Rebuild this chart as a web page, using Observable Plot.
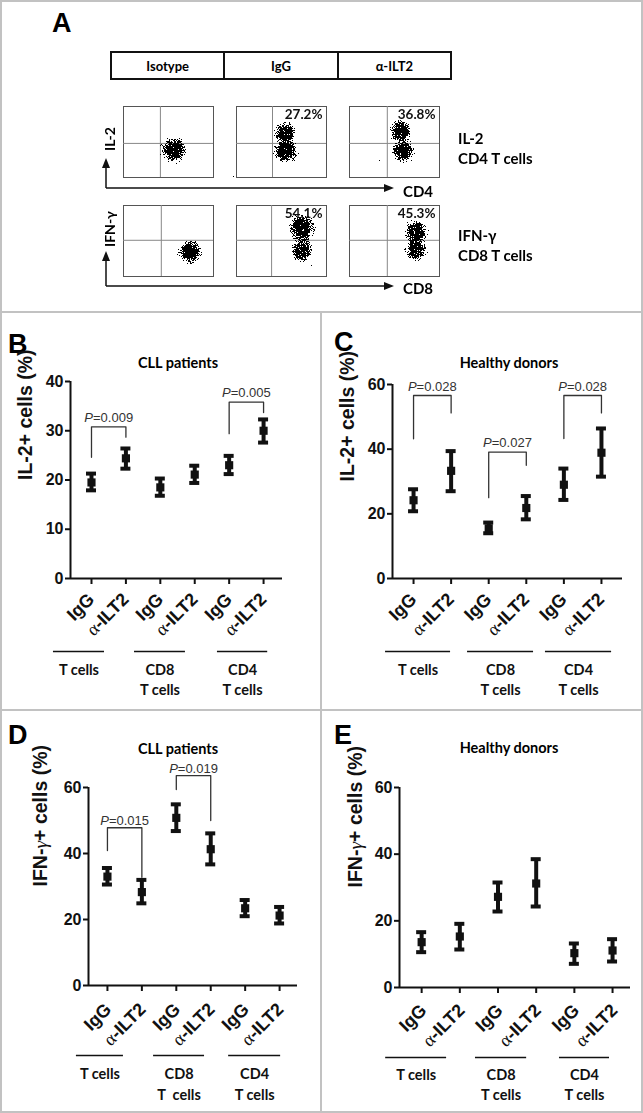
<!DOCTYPE html>
<html>
<head>
<meta charset="utf-8">
<script src="https://cdn.jsdelivr.net/npm/d3@7"></script>
<script src="https://cdn.jsdelivr.net/npm/@observablehq/plot@0.6"></script>
<style>
  body { margin: 0; background: #fff; }
  #fig { position: relative; width: 643px; height: 1113px; overflow: hidden; background: #fff; }
  .abs { position: absolute; }
  .border { position: absolute; background: #c2c2c2; }
  .letter { position: absolute; font-family: "Liberation Sans", Arial, sans-serif; font-weight: bold; font-size: 27px; line-height: 1; }
  .title { position: absolute; font-family: Lato, sans-serif; font-weight: bold; font-size: 14.5px; transform: translate(-50%, -50%); white-space: nowrap; }
  .lab { position: absolute; font-family: Lato, sans-serif; font-weight: bold; font-size: 15px; white-space: nowrap; transform: translateY(-50%); }
  .rot { position: absolute; font-family: Lato, sans-serif; font-weight: bold; font-size: 14px; white-space: nowrap; transform: translate(-50%, -50%) rotate(-90deg); }
  #hdr { position: absolute; left: 110px; top: 51px; width: 342px; height: 29px; border: 2px solid #111; box-sizing: border-box; display: flex; }
  #hdr div { flex: 1; display: flex; align-items: center; justify-content: center; font-family: Lato, sans-serif; font-weight: bold; font-size: 13px; border-left: 2px solid #111; }
  #hdr div:first-child { border-left: none; }
  .panel svg { overflow: visible; }
  #flow g[aria-label="dot"] { filter: url(#speckle); }
</style>
</head>
<body>
<div id="fig">
  <svg width="0" height="0" style="position:absolute">
    <defs>
      <radialGradient id="blob">
        <stop offset="0" stop-color="#000" stop-opacity="1"/>
        <stop offset="0.4" stop-color="#000" stop-opacity="1"/>
        <stop offset="0.7" stop-color="#000" stop-opacity="0.55"/>
        <stop offset="1" stop-color="#000" stop-opacity="0"/>
      </radialGradient>
      <filter id="speckle" x="-10%" y="-10%" width="120%" height="120%" color-interpolation-filters="sRGB">
        <feTurbulence type="fractalNoise" baseFrequency="1.37" numOctaves="1" seed="4" result="noise"/>
        <feColorMatrix in="noise" type="matrix" values="0 0 0 0 0  0 0 0 0 0  0 0 0 0 0  1 0 0 0 0" result="n"/>
        <feComposite in="SourceAlpha" in2="n" operator="arithmetic" k1="0" k2="3" k3="-6" k4="1.5" result="d"/>
        <feComponentTransfer in="d" result="m"><feFuncA type="discrete" tableValues="0 1"/></feComponentTransfer>
        <feFlood flood-color="#000" flood-opacity="1" result="black"/>
        <feComposite in="black" in2="m" operator="in"/>
      </filter>
    </defs>
  </svg>

  <!-- panel borders -->
  <div class="border" style="left:0;top:0;width:643px;height:2px"></div>
  <div class="border" style="left:0;top:1111px;width:643px;height:2px"></div>
  <div class="border" style="left:0;top:0;width:2px;height:1113px"></div>
  <div class="border" style="left:641px;top:0;width:2px;height:1113px"></div>
  <div class="border" style="left:0;top:311px;width:643px;height:2px"></div>
  <div class="border" style="left:0;top:709px;width:643px;height:2px"></div>
  <div class="border" style="left:320px;top:311px;width:2px;height:802px"></div>

  <!-- Panel A -->
  <div class="letter" style="left:52px;top:10px">A</div>
  <div id="hdr"><div>Isotype</div><div>IgG</div><div>α-ILT2</div></div>
  <div id="flow" class="abs" style="left:0;top:0"></div>
  <svg class="abs" style="left:0;top:0" width="643" height="312">
    <g stroke="#111" stroke-width="1.5" fill="none">
      <path d="M106,188 V166 M106,188 H386"/>
      <path d="M106,286 V259 M106,286 H386"/>
    </g>
    <g fill="#111">
      <path d="M106,158 L102,168 L110,168 Z"/>
      <path d="M394,188 L384,184 L384,192 Z"/>
      <path d="M106,251 L102,261 L110,261 Z"/>
      <path d="M394,286 L384,282 L384,290 Z"/>
    </g>
  </svg>
  <div class="rot" style="left:109px;top:139px">IL-2</div>
  <div class="rot" style="left:109px;top:229px">IFN-γ</div>
  <div class="lab" style="left:403px;top:191px">CD4</div>
  <div class="lab" style="left:403px;top:288px">CD8</div>
  <div class="lab" style="left:458px;top:138px">IL-2</div>
  <div class="lab" style="left:458px;top:158px">CD4 T cells</div>
  <div class="lab" style="left:458px;top:235px">IFN-γ</div>
  <div class="lab" style="left:458px;top:255px">CD8 T cells</div>

  <!-- Panels B-E -->
  <div class="letter" style="left:8px;top:331px">B</div>
  <div class="letter" style="left:334px;top:329px">C</div>
  <div class="letter" style="left:8px;top:722px">D</div>
  <div class="letter" style="left:334px;top:722px">E</div>
  <div class="title" style="left:178px;top:362px">CLL patients</div>
  <div class="title" style="left:509px;top:362px">Healthy donors</div>
  <div class="title" style="left:178px;top:748px">CLL patients</div>
  <div class="title" style="left:509px;top:747px">Healthy donors</div>
  <div id="pB" class="abs panel" style="left:0;top:313px"></div>
  <div id="pC" class="abs panel" style="left:322px;top:313px"></div>
  <div id="pD" class="abs panel" style="left:0;top:710px"></div>
  <div id="pE" class="abs panel" style="left:322px;top:710px"></div>
</div>

<script>
// ---------- Panel A data (flow cytometry) ----------
const flowTreat = ["Isotype", "IgG", "α-ILT2"];
const flowStain = ["IL-2", "IFN-γ"];
const gateStain = ["IL-2", "IL-2", "IL-2", "IFN-γ", "IFN-γ", "IFN-γ"];
const gateTreat = ["Isotype", "IgG", "α-ILT2", "Isotype", "IgG", "α-ILT2"];
const gateX = [0.41, 0.40, 0.42, 0.42, 0.39, 0.42];
const gateY = [0.48, 0.48, 0.48, 0.51, 0.51, 0.51];
const cloudStain = ["IL-2", "IL-2", "IL-2", "IL-2", "IL-2", "IFN-γ", "IFN-γ", "IFN-γ", "IFN-γ", "IFN-γ"];
const cloudTreat = ["Isotype", "IgG", "IgG", "α-ILT2", "α-ILT2", "Isotype", "IgG", "IgG", "α-ILT2", "α-ILT2"];
const cloudX = [0.56, 0.54, 0.55, 0.57, 0.60, 0.74, 0.73, 0.73, 0.74, 0.74];
const cloudY = [0.39, 0.63, 0.37, 0.65, 0.37, 0.35, 0.69, 0.37, 0.63, 0.38];
const cloudR = [16, 14, 15, 14, 14, 15, 17, 14, 14, 14];
const pctStain = ["IL-2", "IL-2", "IFN-γ", "IFN-γ"];
const pctTreat = ["IgG", "α-ILT2", "IgG", "α-ILT2"];
const pctText = ["27.2%", "36.8%", "54.1%", "45.3%"];

// ---------- Panels B-E data ----------
const groupNames = ["T cells", "CD8\nT cells", "CD4\nT cells"];
const groupNamesD = ["T cells", "CD8\nT  cells", "CD4\nT cells"];
const treatments = ["IgG", "α-ILT2"];
const tickPositions = [1, 2, 3, 4, 5, 6];

// B: IL-2+, CLL patients
const il2CllMean = [19.5, 24.4, 18.5, 21.1, 23.0, 30.0];
const il2CllLow  = [17.9, 22.3, 16.8, 19.4, 21.2, 27.6];
const il2CllHigh = [21.3, 26.4, 20.3, 22.9, 24.9, 32.3];
const pLabelB = ["P=0.009", "P=0.005"];
const pFromB = [1, 5], pToB = [2, 6];
const pTopB = [30.8, 35.8], pLeftEndB = [24.6, 29.4], pRightEndB = [28.7, 33.7];
const yTicksB = [0, 10, 20, 30, 40];

// C: IL-2+, healthy donors
const il2HdMean = [24.2, 33.3, 15.5, 21.8, 29.0, 38.9];
const il2HdLow  = [20.8, 27.0, 14.0, 18.3, 24.3, 31.5];
const il2HdHigh = [27.6, 39.4, 17.3, 25.5, 34.0, 46.4];
const pLabelC = ["P=0.028", "P=0.027", "P=0.028"];
const pFromC = [1, 3, 5], pToC = [2, 4, 6];
const pTopC = [56.6, 39.1, 56.6], pLeftEndC = [43.2, 25.0, 43.3], pRightEndC = [51.2, 35.0, 51.2];
const yTicks60 = [0, 20, 40, 60];

// D: IFN-γ+, CLL patients
const ifnCllMean = [33.0, 28.3, 50.8, 41.3, 23.4, 21.2];
const ifnCllLow  = [30.6, 24.9, 46.8, 36.7, 21.0, 18.8];
const ifnCllHigh = [35.6, 32.0, 54.9, 46.1, 25.9, 23.8];
const pLabelD = ["P=0.015", "P=0.019"];
const pFromD = [1, 3], pToD = [2, 4];
const pTopD = [47.8, 63.6], pLeftEndD = [40.9, 59.4], pRightEndD = [32.8, 50.0];

// E: IFN-γ+, healthy donors
const ifnHdMean = [13.6, 15.3, 27.2, 31.2, 10.3, 11.1];
const ifnHdLow  = [10.6, 11.4, 22.8, 24.3, 7.1, 7.8];
const ifnHdHigh = [16.6, 19.1, 31.5, 38.5, 13.2, 14.5];

// ---------- helpers ----------
function fixSymbols(svg) {
  svg.querySelectorAll("text").forEach(t => {
    if (t.querySelector("tspan")) return;
    const s = t.textContent;
    const ns = "http://www.w3.org/2000/svg";
    const mk = (txt, attrs) => { const e = document.createElementNS(ns, "tspan"); e.textContent = txt; for (const k in attrs) e.setAttribute(k, attrs[k]); return e; };
    if (s.startsWith("α-")) {
      t.textContent = "";
      t.appendChild(mk("α", {"font-family": "Liberation Serif, DejaVu Serif, serif", "font-weight": "normal"}));
      t.appendChild(mk(s.slice(1), {}));
    } else if (s.startsWith("P=")) {
      t.textContent = "";
      t.appendChild(mk("P", {"font-style": "italic"}));
      t.appendChild(mk(s.slice(1), {}));
    } else if (s.includes("γ+")) {
      const i = s.indexOf("γ");
      t.textContent = "";
      t.appendChild(mk(s.slice(0, i), {}));
      t.appendChild(mk("γ", {"font-family": "Liberation Serif, DejaVu Serif, serif", "font-weight": "normal", "font-style": "italic"}));
      t.appendChild(mk(s.slice(i + 1), {}));
    }
  });
}

// ---------- Panel A: flow plots ----------
{
  const gates = gateX.map((gx, i) => ({gx, gy: gateY[i], stain: gateStain[i], treat: gateTreat[i]}));
  const clouds = cloudX.map((x, i) => ({x, y: cloudY[i], r: cloudR[i], stain: cloudStain[i], treat: cloudTreat[i]}));
  const pcts = pctText.map((text, i) => ({text, stain: pctStain[i], treat: pctTreat[i]}));
  const svg = Plot.plot({
    width: 643, height: 312,
    marginLeft: 122, marginRight: 203, marginTop: 106, marginBottom: 35,
    style: {background: "transparent", overflow: "visible"},
    fx: {domain: flowTreat, paddingInner: 0.2, paddingOuter: 0, axis: null},
    fy: {domain: flowStain, paddingInner: 0.28, paddingOuter: 0, axis: null},
    x: {domain: [0, 1], axis: null},
    y: {domain: [0, 1], axis: null},
    r: {type: "linear", domain: [0, 1], range: [0, 1]},
    marks: [
      Plot.frame({stroke: "#555", strokeWidth: 1}),
      Plot.ruleX(gates, {x: "gx", fx: "treat", fy: "stain", stroke: "#888", strokeWidth: 1}),
      Plot.ruleY(gates, {y: "gy", fx: "treat", fy: "stain", stroke: "#888", strokeWidth: 1}),
      Plot.dot(clouds, {x: "x", y: "y", r: "r", fx: "treat", fy: "stain", fill: "url(#blob)", stroke: null}),
      Plot.text(pcts, {text: "text", fx: "treat", fy: "stain", frameAnchor: "top-right", dx: -4, dy: 3, lineAnchor: "top",
        fontFamily: "Lato, sans-serif", fontWeight: "bold", fontSize: 13.5, fill: "#111"})
    ]
  });
  document.getElementById("flow").appendChild(svg);
}

// ---------- Panels B-E ----------
function panel(cfg) {
  const rows = cfg.mean.map((m, i) => ({x: i + 1, m, lo: cfg.low[i], hi: cfg.high[i]}));
  const brackets = [];
  const pRows = [];
  (cfg.pLabel || []).forEach((text, k) => {
    const a = cfg.pFrom[k], b = cfg.pTo[k];
    brackets.push({k, x: a, y: cfg.pLeft[k]}, {k, x: a, y: cfg.pTop[k]}, {k, x: b, y: cfg.pTop[k]}, {k, x: b, y: cfg.pRight[k]});
    pRows.push({text, x: (a + b) / 2, y: cfg.pTop[k]});
  });
  const groups = cfg.groups.map((g, i) => ({g, a: cfg.spans[i][0], b: cfg.spans[i][1], c: (cfg.spans[i][0] + cfg.spans[i][1]) / 2}));
  const [mt, mr, mb, ml] = cfg.margins;
  const svg = Plot.plot({
    width: cfg.width, height: cfg.height,
    marginTop: mt, marginRight: mr, marginBottom: mb, marginLeft: ml,
    style: {background: "transparent", overflow: "visible", fontFamily: "Liberation Sans, Arial, sans-serif", fontWeight: "bold", fontSize: "16px", color: "#111"},
    x: {domain: cfg.xDomain, axis: null},
    y: {domain: [0, cfg.yMax], axis: null},
    marks: [
      Plot.axisY({ticks: cfg.yTicks, tickSize: 5, tickPadding: 2, strokeWidth: 2, label: null, tickFormat: d => d}),
      Plot.axisX({ticks: tickPositions, tickFormat: () => "", tickSize: 6, strokeWidth: 2, label: null}),
      Plot.text(tickPositions, {x: d => d, y: () => 0, text: d => treatments[(d - 1) % 2], rotate: -45, textAnchor: "end", lineAnchor: "bottom",
        dx: cfg.tickDx, dy: cfg.tickDy, fontSize: 18, fontWeight: "bold", fill: "#111"}),
      Plot.ruleX([cfg.xDomain[0]], {y1: 0, y2: cfg.yMax, strokeWidth: 2, stroke: "#111"}),
      Plot.ruleY([0], {strokeWidth: 2, stroke: "#111"}),
      Plot.text([cfg.yLabel], {frameAnchor: "left", rotate: -90, dx: -cfg.yLabelOff, lineAnchor: "middle", fontSize: 19.5, fontWeight: "bold", fill: "#111"}),
      Plot.ruleX(rows, {x: "x", y1: "lo", y2: "hi", strokeWidth: 4, stroke: "#111"}),
      Plot.ruleY(rows, {x1: "x", x2: "x", y: "lo", insetLeft: -5, insetRight: -5, strokeWidth: 4, stroke: "#111"}),
      Plot.ruleY(rows, {x1: "x", x2: "x", y: "hi", insetLeft: -5, insetRight: -5, strokeWidth: 4, stroke: "#111"}),
      Plot.dot(rows, {x: "x", y: "m", symbol: "square", r: 4.6, fill: "#111", stroke: null}),
      Plot.line(brackets, {x: "x", y: "y", z: "k", stroke: "#333", strokeWidth: 1.3}),
      Plot.text(pRows, {x: "x", y: "y", text: "text", dy: -cfg.pDy, lineAnchor: "middle", fontSize: 13, fontWeight: "normal", fill: "#333"}),
      Plot.ruleY(groups, {x1: "a", x2: "b", y: () => 0, dy: cfg.groupDy, strokeWidth: 1.3, stroke: "#111"}),
      Plot.text(groups, {x: "c", y: () => 0, text: "g", dy: cfg.labelDy, lineAnchor: "top", lineHeight: cfg.lineH,
        fontFamily: "Lato, sans-serif", fontWeight: "bold", fontSize: 14.5, fill: "#111"})
    ]
  });
  fixSymbols(svg);
  document.getElementById(cfg.el).appendChild(svg);
}

panel({el: "pB", mean: il2CllMean, low: il2CllLow, high: il2CllHigh,
  pLabel: pLabelB, pFrom: pFromB, pTo: pToB, pTop: pTopB, pLeft: pLeftEndB, pRight: pRightEndB,
  yMax: 40, yTicks: yTicksB, yLabel: "IL-2+ cells (%)", groups: groupNames,
  xDomain: [0.39, 6.55], spans: [[-0.105, 1.378], [2.25, 3.73], [4.66, 6.12]],
  width: 321, height: 397, margins: [68, 39, 132, 70], tickDx: 4, tickDy: 22, groupDy: 73, labelDy: 82, lineH: 1.38, pDy: 9, yLabelOff: 45});

panel({el: "pC", mean: il2HdMean, low: il2HdLow, high: il2HdHigh,
  pLabel: pLabelC, pFrom: pFromC, pTo: pToC, pTop: pTopC, pLeft: pLeftEndC, pRight: pRightEndC,
  yMax: 60, yTicks: yTicks60, yLabel: "IL-2+ cells (%)", groups: groupNames,
  xDomain: [0.44, 6.56], spans: [[0.255, 1.985], [2.437, 4.193], [4.51, 6.27]],
  width: 321, height: 397, margins: [71, 21, 132, 70], tickDx: 4, tickDy: 22, groupDy: 73, labelDy: 82, lineH: 1.38, pDy: 9, yLabelOff: 45});

panel({el: "pD", mean: ifnCllMean, low: ifnCllLow, high: ifnCllHigh,
  pLabel: pLabelD, pFrom: pFromD, pTo: pToD, pTop: pTopD, pLeft: pLeftEndD, pRight: pRightEndD,
  yMax: 60, yTicks: yTicks60, yLabel: "IFN-γ+ cells (%)", groups: groupNamesD,
  xDomain: [0.45, 6.52], spans: [[0.099, 1.465], [2.34, 3.82], [4.52, 6.03]],
  width: 321, height: 403, margins: [77, 24, 128, 88], tickDx: 5, tickDy: 25, groupDy: 70, labelDy: 79, lineH: 1.45, pDy: 7, yLabelOff: 48});

panel({el: "pE", mean: ifnHdMean, low: ifnHdLow, high: ifnHdHigh,
  yMax: 60, yTicks: yTicks60, yLabel: "IFN-γ+ cells (%)", groups: groupNames,
  xDomain: [0.42, 6.47], spans: [[0.058, 1.654], [2.41, 3.75], [4.61, 5.92]],
  width: 321, height: 403, margins: [77, 13, 126, 77], tickDx: 6, tickDy: 24, groupDy: 70, labelDy: 78, lineH: 1.38, pDy: 7, yLabelOff: 44});
</script>
</body>
</html>
